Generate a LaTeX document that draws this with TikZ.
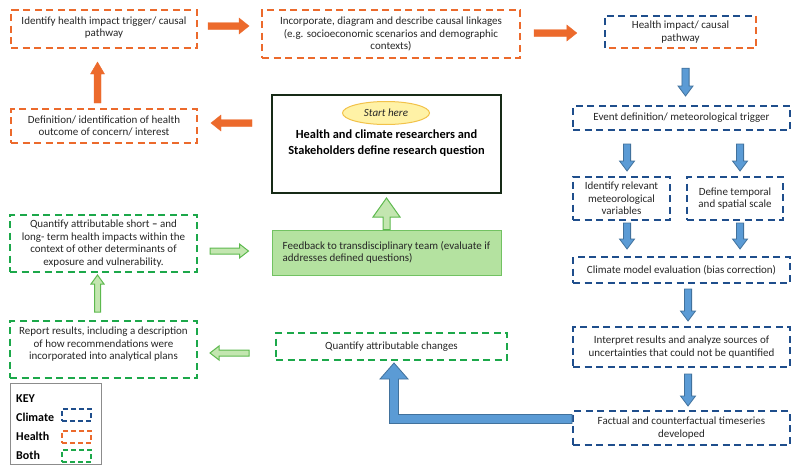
\documentclass[tikz,border=0pt]{standalone}
\usepackage{fontspec}
\setmainfont{Carlito}
\usetikzlibrary{calc,shapes.geometric}
\definecolor{orA}{HTML}{EC6A2C}
\definecolor{blD}{HTML}{1F4E8C}
\definecolor{grD}{HTML}{1CA84A}
\definecolor{blF}{HTML}{5B9BD5}
\definecolor{blE}{HTML}{41719C}
\definecolor{grF}{HTML}{C3E6B0}
\definecolor{grE}{HTML}{5DB94E}
\definecolor{fbF}{HTML}{B4E2A0}
\definecolor{fbE}{HTML}{72C262}
\definecolor{txt}{HTML}{262626}
\definecolor{ellF}{HTML}{FFF2A6}
\definecolor{ellE}{HTML}{F2C24A}
\definecolor{keyE}{HTML}{8C8C8C}
\definecolor{ctrE}{HTML}{162A16}
% #1 style, #2 start, #3 end, #4 ux, #5 uy, #6 shaft half width, #7 head half width, #8 head length
\newcommand\blockarrow[8]{%
 \coordinate (baS) at #2;
 \coordinate (baE) at #3;
 \filldraw[#1]
  ($(baS)+({-(#5)*(#6)},{(#4)*(#6)})$)
  -- ($(baE)+({-(#4)*(#8)-(#5)*(#6)},{-(#5)*(#8)+(#4)*(#6)})$)
  -- ($(baE)+({-(#4)*(#8)-(#5)*(#7)},{-(#5)*(#8)+(#4)*(#7)})$)
  -- (baE)
  -- ($(baE)+({-(#4)*(#8)+(#5)*(#7)},{-(#5)*(#8)-(#4)*(#7)})$)
  -- ($(baE)+({-(#4)*(#8)+(#5)*(#6)},{-(#5)*(#8)-(#4)*(#6)})$)
  -- ($(baS)+({(#5)*(#6)},{-(#4)*(#6)})$) -- cycle;}
\begin{document}
\begin{tikzpicture}[x=1pt,y=-1pt,
 every node/.style={font=\fontsize{11}{12.5}\selectfont, text=txt, inner sep=0pt},
 dbox/.style={draw, line width=2pt, dash pattern=on 7pt off 4.5pt, align=center},
 hlbox/.style={dbox, draw=orA},
 clbox/.style={dbox, draw=blD},
 btbox/.style={dbox, draw=grD},
 keyrect/.style={draw, line width=1.5pt, dash pattern=on 5pt off 3pt, minimum width=29, minimum height=12},
 keytext/.style={anchor=west, font=\fontsize{12}{14}\selectfont\bfseries, text=black},
 orarrow/.style={fill=orA, draw=orA, line width=0.4pt},
 blarrow/.style={fill=blF, draw=blE, line width=0.8pt},
 grarrow/.style={fill=grF, draw=grE, line width=1pt},
]
\useasboundingbox (0,0) rectangle (800,474);

% health (orange) boxes
\node[hlbox, minimum width=186, minimum height=38, text depth=5pt] (trig) at (104,29) {Identify health impact trigger/ causal\\pathway};
\node[hlbox, minimum width=258, minimum height=48] (incorp) at (391,34) {Incorporate, diagram and describe causal linkages\\(e.g. socioeconomic scenarios and demographic\\contexts)};
\node[hlbox, minimum width=186, minimum height=34] (defn) at (104,126) {Definition/ identification of health\\outcome of concern/ interest};

% mixed box
\node[minimum width=151, minimum height=32, align=center] (hip) at (680.5,32) {Health impact/ causal\\pathway};
\draw[clbox] (hip.south west) -- (hip.north west) -- (hip.north east);
\draw[hlbox] (hip.north east) -- (hip.south east) -- (hip.south west);

% centre
\node[draw=ctrE, line width=2pt, minimum width=229, minimum height=98] (ctr) at (386.5,144) {};
\node[ellipse, draw=ellE, fill=ellF, line width=1pt, minimum width=87, minimum height=23, font=\fontsize{11}{12.5}\selectfont\itshape] (start) at (386,113) {Start here};
\node[font=\fontsize{12.4}{15.5}\selectfont\bfseries, text=black, align=center] (ctext) at (386.5,143) {Health and climate researchers and\\Stakeholders define research question};
\node[draw=fbE, fill=fbF, line width=1pt, minimum width=229, minimum height=45, align=left] (fb) at (386.5,252.5) {Feedback to transdisciplinary team (evaluate if\\addresses defined questions)};

% climate (blue) boxes
\node[clbox, minimum width=217, minimum height=24] (event) at (681.5,118) {Event definition/ meteorological trigger};
\node[clbox, minimum width=97, minimum height=43] (relvar) at (621.5,198.5) {Identify relevant\\meteorological\\variables};
\node[clbox, minimum width=96, minimum height=43] (tempo) at (735,198.5) {Define temporal\\and spatial scale};
\node[clbox, minimum width=217, minimum height=26] (clim) at (681.5,270) {Climate model evaluation (bias correction)};
\node[clbox, minimum width=217, minimum height=40] (interp) at (681.5,347) {Interpret results and analyze sources of\\uncertainties that could not be quantified};
\node[clbox, minimum width=217, minimum height=34] (fact) at (681.5,428) {Factual and counterfactual timeseries\\developed};

% both (green) boxes
\node[btbox, minimum width=187, minimum height=57] (qshort) at (103.5,243.5) {Quantify attributable short \textbf{–} and\\long- term health impacts within the\\context of other determinants of\\exposure and vulnerability.};
\node[btbox, minimum width=187, minimum height=57, text depth=12pt] (report) at (103.5,349.5) {Report results, including a description\\of how recommendations were\\incorporated into analytical plans};
\node[btbox, minimum width=231, minimum height=27] (qchg) at (391.5,346.5) {Quantify attributable changes};

% key
\node[draw=keyE, line width=1pt, minimum width=91, minimum height=81] (key) at (55.5,423.5) {};
\node[keytext] (kt) at (16,399) {KEY};
\node[keytext] (kc) at (16,417) {Climate};
\node[keytext] (kh) at (16,436) {Health};
\node[keytext] (kb) at (16,455) {Both};
\node[keyrect, draw=blD] (kcr) at (76.5,415) {};
\node[keyrect, draw=orA] (khr) at (76.5,437) {};
\node[keyrect, draw=grD] (kbr) at (76.5,456) {};

% orange arrows
\blockarrow{orarrow}{($(trig.east)+(10,-3)$)}{($(trig.east -| incorp.west)+(-12,-3)$)}{1}{0}{3.5}{8}{10}
\blockarrow{orarrow}{($(incorp.east)+(13,-1)$)}{($(incorp.east -| hip.west)+(-28,-1)$)}{1}{0}{3.5}{8}{10}
\blockarrow{orarrow}{($(defn.east -| ctr.west)+(-19,-3)$)}{($(defn.east)+(13,-3)$)}{-1}{0}{3.5}{8}{10}
\blockarrow{orarrow}{($(defn.north)+(-6.5,-5)$)}{($(trig.south)+(-6.5,13)$)}{0}{-1}{3.5}{7}{12}

% blue arrows
\blockarrow{blarrow}{($(hip.south)+(5,20)$)}{($(hip.south |- event.north)+(5,-9)$)}{0}{1}{3.6}{7.5}{10}
\blockarrow{blarrow}{($(relvar.north |- event.south)+(5.5,13)$)}{($(relvar.north)+(5.5,-5)$)}{0}{1}{3.6}{7.5}{10}
\blockarrow{blarrow}{($(tempo.north |- event.south)+(5,13)$)}{($(tempo.north)+(5,-5)$)}{0}{1}{3.6}{7.5}{10}
\blockarrow{blarrow}{($(relvar.south)+(5.5,2)$)}{($(relvar.south |- clim.north)+(5.5,-7)$)}{0}{1}{3.6}{7.5}{10}
\blockarrow{blarrow}{($(tempo.south)+(5,2)$)}{($(tempo.south |- clim.north)+(5,-7)$)}{0}{1}{3.6}{7.5}{10}
\blockarrow{blarrow}{($(clim.south)+(6.5,5)$)}{($(interp.north)+(6.5,-5)$)}{0}{1}{3.6}{7.5}{10}
\blockarrow{blarrow}{($(interp.south)+(6.5,6)$)}{($(fact.north)+(6.5,-4)$)}{0}{1}{3.6}{7.5}{10}

% blue L-shaped arrow
\coordinate (Ltip) at ($(qchg.south)+(2.5,2)$);
\coordinate (Lstart) at ($(fact.west)+(0,-9)$);
\filldraw[blarrow] ($(Lstart)+(0,-4.5)$) -- ($(Ltip|-Lstart)+(4.5,-4.5)$) -- ($(Ltip)+(4.5,16)$) -- ($(Ltip)+(14,16)$) -- (Ltip) -- ($(Ltip)+(-14,16)$) -- ($(Ltip)+(-4.5,16)$) -- ($(Ltip|-Lstart)+(-4.5,4.5)$) -- ($(Lstart)+(0,4.5)$) -- cycle;

% green arrows
\blockarrow{grarrow}{($(qshort.east)+(12,7.5)$)}{($(qshort.east -| fb.west)+(-23,7.5)$)}{1}{0}{3}{7}{9}
\blockarrow{grarrow}{($(report.north)+(-6,-8)$)}{($(qshort.south)+(-6,2)$)}{0}{-1}{3}{6.5}{9}
\blockarrow{grarrow}{($(qchg.west)+(-26,6.5)$)}{($(qchg.west -| report.east)+(12,6.5)$)}{-1}{0}{3}{7}{9}
\blockarrow{grarrow}{(fb.north)}{($(ctr.south)+(0,4)$)}{0}{-1}{3.5}{13.5}{19}
\end{tikzpicture}
\end{document}
